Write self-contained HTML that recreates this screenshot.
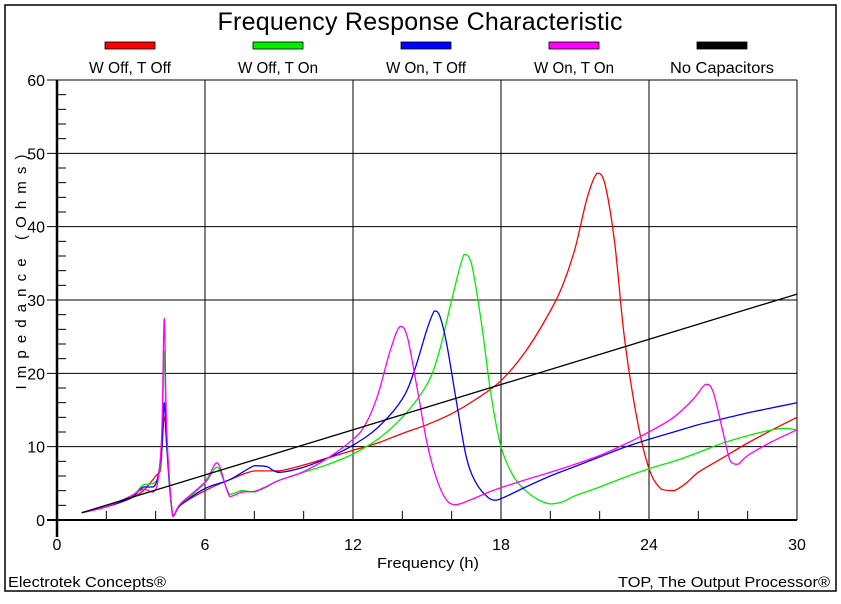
<!DOCTYPE html>
<html><head><meta charset="utf-8"><style>
body{margin:0;background:#fff;width:841px;height:604px;overflow:hidden}
svg{display:block;font-family:"Liberation Sans",sans-serif}
</style></head><body>
<svg id="chart" width="841" height="604">
<rect x="5" y="5" width="831" height="586" fill="#fff" stroke="#000" stroke-width="1.5"/>
<text x="420" y="30" text-anchor="middle" font-size="25" textLength="405" lengthAdjust="spacing">Frequency Response Characteristic</text>
<g id="legend"></g>
<g id="grid"></g>
<g id="series"></g>
<text transform="translate(26,272) rotate(-90)" text-anchor="middle" font-size="15" textLength="235" lengthAdjust="spacing">Impedance (Ohms)</text>
<text x="428" y="568" text-anchor="middle" font-size="15" textLength="102" lengthAdjust="spacingAndGlyphs">Frequency (h)</text>
<text x="8" y="587" font-size="15" textLength="158" lengthAdjust="spacingAndGlyphs">Electrotek Concepts®</text>
<text x="830" y="587" text-anchor="end" font-size="15" textLength="212" lengthAdjust="spacingAndGlyphs">TOP, The Output Processor®</text>
</svg>
<script>
const xTicks=[0,6,12,18,24,30];
const yTicks=[0,10,20,30,40,50,60];
const seriesNames=["W Off, T Off","W Off, T On","W On, T Off","W On, T On","No Capacitors"];
const seriesColors=["#ff0000","#00ee00","#0000ff","#ff00ff","#000000"];
const redX=[1,2,3,3.5,4,4.2,4.35,4.5,4.7,5,6,7,8,9,10,11,12,13,14,15,16,17,18,19,20,20.5,21,21.5,21.9,22.2,22.6,23,23.5,24,24.5,25,25.5,26,27,28,29,30];
const redY=[1,1.8,3,4,6,7,14,8,0.5,2,4,5.5,6.7,6.7,7.5,8.5,9.5,10.5,11.8,13,14.5,16.5,19,23,28.5,32,37,44,47.3,46,38,25,14,7,4.2,4,5,6.5,8.5,10.5,12.3,14];
const greenX=[1,2,3,3.5,3.9,4.1,4.25,4.35,4.45,4.7,5,6,6.5,7,7.5,8,8.5,9,10,11,12,13,14,15,15.5,16,16.5,16.8,17.2,17.6,18,18.5,19,19.5,20,20.5,21,22,23,24,25,26,27,28,29,29.5,30];
const greenY=[1,1.8,3.2,4.8,5,6,10,23,10,0.5,2,5,7.2,3.5,4,3.8,4.5,5.4,6.5,7.6,9,11,14,18.5,23,30,36.2,35,27,17,10,6,4,2.8,2.2,2.5,3.3,4.5,5.8,7,8,9.2,10.5,11.5,12.3,12.5,12.3];
const blueX=[1,2,3,3.5,3.9,4.1,4.25,4.35,4.45,4.7,5,6,7,8,8.5,9,10,11,12,13,14,14.5,15,15.3,15.5,15.8,16.2,16.6,17,17.5,17.8,18.2,19,20,21,22,23,24,25,26,27,28,29,30];
const blueY=[1,1.8,3,4.5,4.5,6,10,16,10,0.5,2,4.3,5.5,7.4,7.3,6.5,7.2,8.5,10.2,12.6,16.5,20.5,26,28.5,28,24,16,8.5,5,3,2.7,3.2,4.5,6,7.3,8.6,9.9,11,12,13,13.8,14.6,15.3,16];
const magX=[1,2,3,3.5,3.9,4.1,4.25,4.35,4.45,4.7,5,6,6.5,7,7.5,8,8.5,9,10,11,12,12.5,13,13.5,13.9,14.2,14.6,15,15.4,15.8,16.2,16.8,17.5,18,19,20,21,22,23,24,25,25.8,26.3,26.6,27,27.3,27.6,28,29,30];
const magY=[1,1.8,3.3,4.2,3.8,5.5,12,27.5,12,0.5,2.2,5.2,7.8,3.2,3.8,3.9,4.6,5.4,6.6,8.5,11,13,17,23,26.4,25,18,10.5,5.5,2.7,2.1,2.8,3.8,4.4,5.5,6.5,7.6,8.8,10.3,12,14,16.5,18.5,17.5,12,8,7.6,8.8,10.7,12.3];
const blackX=[1,30];
const blackY=[1,30.8];
const allX=[redX,greenX,blueX,magX,blackX];
const allY=[redY,greenY,blueY,magY,blackY];
const X0=57,X1=797,Y0=520,Y1=80;
const sx=v=>X0+(v-0)/30*(X1-X0);
const sy=v=>Y0-(v-0)/60*(Y0-Y1);
const NS="http://www.w3.org/2000/svg";
function mk(tag,attrs,parent){const e=document.createElementNS(NS,tag);for(const k in attrs)e.setAttribute(k,attrs[k]);parent.appendChild(e);return e;}
function smoothPath(P){
  let d='M'+P[0][0].toFixed(1)+','+P[0][1].toFixed(1);
  for(let i=0;i<P.length-1;i++){
    const p0=P[Math.max(i-1,0)],p1=P[i],p2=P[i+1],p3=P[Math.min(i+2,P.length-1)];
    const lo=Math.min(p1[1],p2[1]),hi=Math.max(p1[1],p2[1]);
    const cl=v=>Math.min(hi,Math.max(lo,v));
    const c1=[p1[0]+(p2[0]-p0[0])/6,cl(p1[1]+(p2[1]-p0[1])/6)];
    const c2=[p2[0]-(p3[0]-p1[0])/6,cl(p2[1]-(p3[1]-p1[1])/6)];
    d+=' C'+c1[0].toFixed(1)+','+c1[1].toFixed(1)+' '+c2[0].toFixed(1)+','+c2[1].toFixed(1)+' '+p2[0].toFixed(1)+','+p2[1].toFixed(1);
  }
  return d;
}
const grid=document.getElementById('grid');
const series=document.getElementById('series');
const legend=document.getElementById('legend');
for(let v=0;v<=60;v+=2){if(v%10){const t=mk('line',{x1:X0,x2:X0+9,y1:sy(v),y2:sy(v),stroke:'#000','stroke-width':1},grid);

}}
for(let v=0;v<=30;v+=2){if(v%6){const t=mk('line',{x1:sx(v),x2:sx(v),y1:Y0,y2:Y0-9,stroke:'#000','stroke-width':1},grid);

}}
yTicks.forEach(v=>{
const l=mk('line',{x1:X0-10,x2:X1,y1:sy(v),y2:sy(v),stroke:'#000','stroke-width':v===0?2:1},grid);


const t=mk('text',{x:X0-12,y:sy(v)+6,'text-anchor':'end','font-size':16},grid);t.textContent=v;


});
xTicks.forEach(v=>{
const l=mk('line',{x1:sx(v),x2:sx(v),y1:Y1,y2:Y0+(v===0?17:0),stroke:'#000','stroke-width':v===0?2.5:1},grid);


const t=mk('text',{x:sx(v),y:Y0+30,'text-anchor':'middle','font-size':16},grid);t.textContent=v;


});
allX.forEach((xs,i)=>{
const P=xs.map((x,j)=>[sx(x),sy(allY[i][j])]);
const p=mk('path',{d:smoothPath(P),fill:'none',stroke:seriesColors[i],'stroke-width':1.3,'stroke-linejoin':'round'},series);


});
seriesNames.forEach((n,i)=>{
const cx=130+i*148;
const r=mk('rect',{x:cx-25,y:42,width:50,height:7,fill:seriesColors[i],stroke:'#000','stroke-width':0.8},legend);


const t=mk('text',{x:cx,y:73,'text-anchor':'middle','font-size':16,textLength:i===4?104:(i===1?80:(i===0?82:80)),lengthAdjust:'spacingAndGlyphs'},legend);t.textContent=n;


});
</script>
</body></html>
